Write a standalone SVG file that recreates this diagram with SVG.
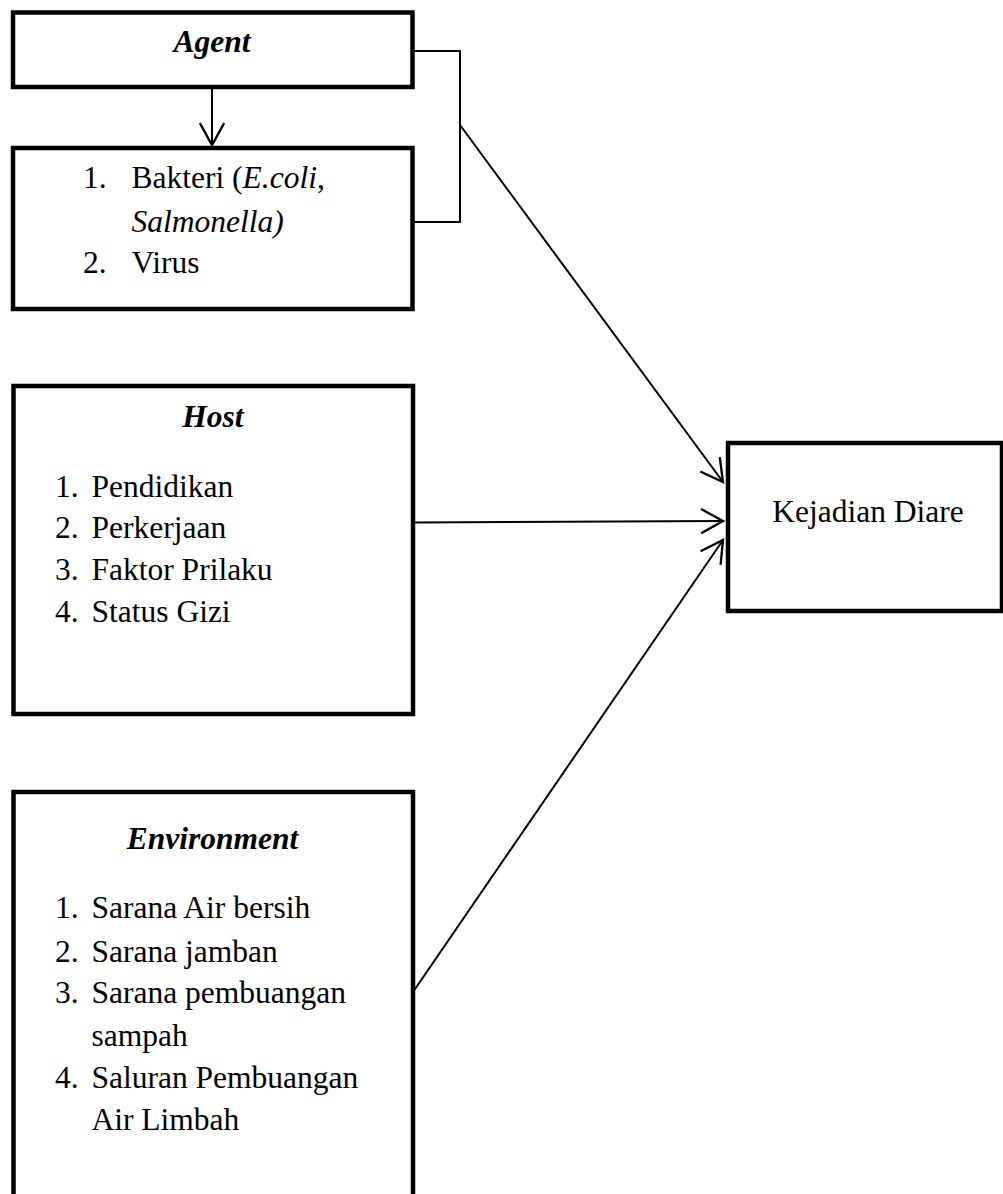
<svg xmlns="http://www.w3.org/2000/svg" width="1003" height="1194" viewBox="0 0 1003 1194">
<style>
.box{fill:#fff;stroke:#000;stroke-width:4.5}
.t{font-family:"Liberation Serif","Times New Roman",serif;font-size:31.5px;fill:#000}
.title{font-weight:bold;font-style:italic}
.i{font-style:italic}
.c{fill:none;stroke:#000;stroke-width:2}
</style>
<defs>
<marker id="ah" markerUnits="userSpaceOnUse" markerWidth="30" markerHeight="30" viewBox="-22 -13 24 26" refX="0" refY="0" orient="auto">
<path d="M-19,-10.5 L0,0 L-19,10.5" fill="none" stroke="#000" stroke-width="2"/>
</marker>
</defs>
<g id="agent">
<rect class="box" x="13" y="12.5" width="399.5" height="74.5"/>
<text class="t title" x="212" y="52" text-anchor="middle">Agent</text>
</g>
<g id="agent-list">
<rect class="box" x="13" y="148" width="399.5" height="161"/>
<text class="t" x="83" y="188">1.</text>
<text class="t" x="131.5" y="188">Bakteri (<tspan class="i">E.coli</tspan>,</text>
<text class="t i" x="131.5" y="231.5">Salmonella)</text>
<text class="t" x="83" y="273">2.</text>
<text class="t" x="131.5" y="273">Virus</text>
</g>
<g id="host">
<rect class="box" x="13.5" y="386" width="399.5" height="328"/>
<text class="t title" x="213" y="427" text-anchor="middle">Host</text>
<text class="t" x="55" y="496.5">1.</text><text class="t" x="91.5" y="496.5">Pendidikan</text>
<text class="t" x="55" y="538">2.</text><text class="t" x="91.5" y="538">Perkerjaan</text>
<text class="t" x="55" y="580">3.</text><text class="t" x="91.5" y="580">Faktor Prilaku</text>
<text class="t" x="55" y="621.5">4.</text><text class="t" x="91.5" y="621.5">Status Gizi</text>
</g>
<g id="environment">
<rect class="box" x="13.5" y="792" width="399.5" height="420"/>
<text class="t title" x="212.5" y="849" text-anchor="middle">Environment</text>
<text class="t" x="55" y="918">1.</text><text class="t" x="91.5" y="918">Sarana Air bersih</text>
<text class="t" x="55" y="961.5">2.</text><text class="t" x="91.5" y="961.5">Sarana jamban</text>
<text class="t" x="55" y="1003">3.</text><text class="t" x="91.5" y="1003">Sarana pembuangan</text>
<text class="t" x="91.5" y="1046">sampah</text>
<text class="t" x="55" y="1088">4.</text><text class="t" x="91.5" y="1088">Saluran Pembuangan</text>
<text class="t" x="91.5" y="1130">Air Limbah</text>
</g>
<g id="kejadian">
<rect class="box" x="728" y="443" width="274" height="168"/>
<text class="t" x="868" y="522" text-anchor="middle">Kejadian Diare</text>
</g>
<g id="connectors">
<line class="c" x1="212" y1="89" x2="212" y2="145" marker-end="url(#ah)"/>
<polyline class="c" points="414,51 460,51 460,222 414,222"/>
<line class="c" x1="460" y1="125" x2="723" y2="482" marker-end="url(#ah)"/>
<line class="c" x1="415" y1="522.5" x2="723" y2="521" marker-end="url(#ah)"/>
<line class="c" x1="413" y1="992" x2="723" y2="540" marker-end="url(#ah)"/>
</g>
</svg>
